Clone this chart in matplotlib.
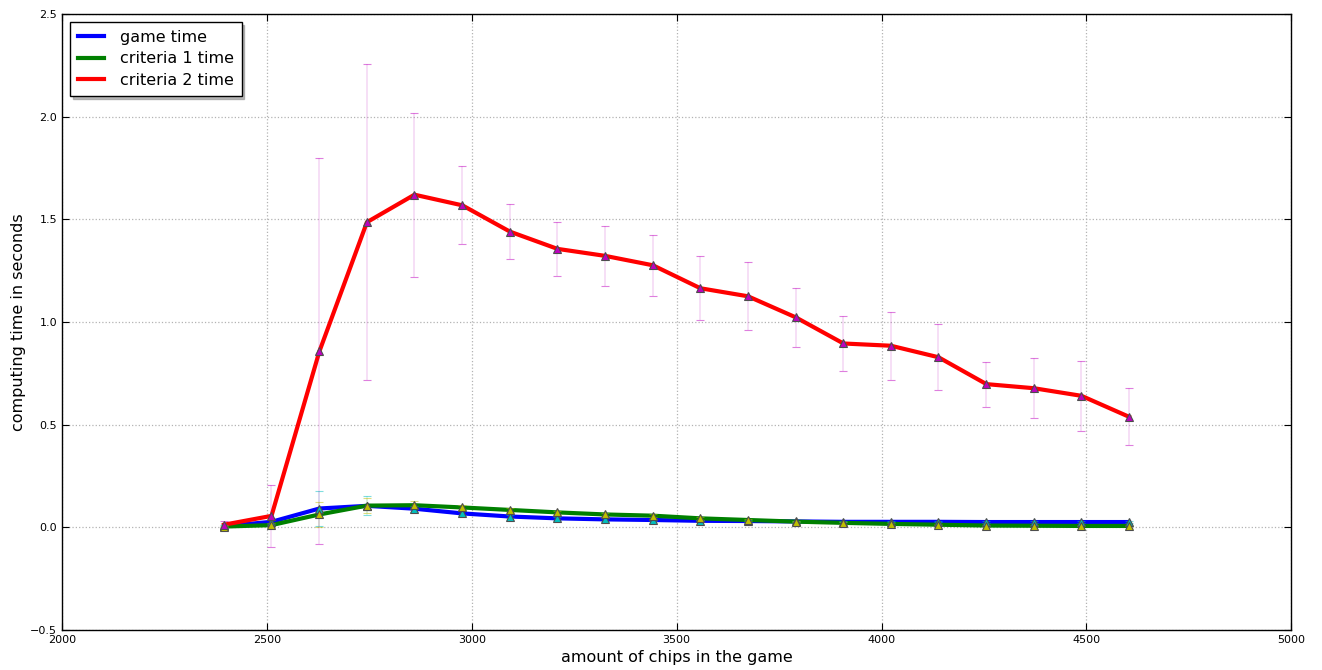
import numpy as np
import matplotlib
matplotlib.use("Agg")
import matplotlib.pyplot as plt

# amount of chips per game
chips = [2395, 2511, 2628, 2744, 2860, 2977, 3093, 3209, 3325, 3442,
         3558, 3674, 3791, 3907, 4023, 4139, 4256, 4372, 4488, 4604]

# mean computing times
game_time = [0.005, 0.026, 0.091, 0.104, 0.090, 0.067, 0.052, 0.043, 0.038, 0.035,
             0.031, 0.030, 0.028, 0.026, 0.026, 0.026, 0.025, 0.025, 0.025, 0.025]
crit1_time = [0.003, 0.010, 0.062, 0.105, 0.107, 0.096, 0.084, 0.072, 0.062, 0.056,
              0.043, 0.035, 0.027, 0.021, 0.016, 0.012, 0.008, 0.007, 0.006, 0.006]
crit2_time = [0.012, 0.055, 0.857, 1.486, 1.620, 1.568, 1.440, 1.356, 1.322, 1.276,
              1.164, 1.125, 1.022, 0.895, 0.884, 0.828, 0.697, 0.677, 0.640, 0.538]

# standard deviations
game_std = [0.004, 0.010, 0.085, 0.047, 0.015, 0.010, 0.008, 0.006, 0.006, 0.005,
            0.004, 0.004, 0.004, 0.003, 0.003, 0.003, 0.003, 0.003, 0.003, 0.003]
crit1_std = [0.003, 0.008, 0.060, 0.035, 0.020, 0.012, 0.010, 0.008, 0.008, 0.007,
             0.006, 0.005, 0.004, 0.004, 0.003, 0.003, 0.002, 0.002, 0.002, 0.002]
crit2_std = [0.020, 0.150, 0.940, 0.770, 0.400, 0.190, 0.135, 0.130, 0.145, 0.150,
             0.155, 0.165, 0.145, 0.135, 0.165, 0.160, 0.110, 0.145, 0.170, 0.140]

plt.rcParams['font.family'] = 'DejaVu Sans'

fig = plt.figure(figsize=(13.22, 6.70), dpi=100, facecolor='white')
ax = fig.add_axes([0.047, 0.06, 0.9297, 0.919])

series = [
    (game_time, game_std, 'b', 'c', 'game time'),
    (crit1_time, crit1_std, 'g', 'y', 'criteria 1 time'),
    (crit2_time, crit2_std, 'r', 'm', 'criteria 2 time'),
]

for vals, std, lc, mc, lab in series:
    ax.plot(chips, vals, color=lc, linewidth=3, label=lab, zorder=2)
    _, caps, bars = ax.errorbar(chips, vals, yerr=std, fmt='^', color=mc,
                                markersize=6, markeredgecolor='0.3',
                                markeredgewidth=0.8, ecolor=mc, elinewidth=1.2,
                                capsize=3, zorder=3)
    for b in bars:
        b.set_alpha(0.15)
    for c in caps:
        c.set_alpha(0.5)

ax.set_xlim(2000, 5000)
ax.set_ylim(-0.5, 2.5)
ax.set_xticks(np.arange(2000, 5001, 500))
ax.set_yticks(np.arange(-0.5, 2.51, 0.5))
ax.tick_params(direction='in', top=True, right=True, labelsize=8, length=5)
ax.grid(True, color='0.7', linestyle=':', linewidth=0.9)
ax.set_axisbelow(True)
for s in ax.spines.values():
    s.set_linewidth(1.0)

ax.set_xlabel('amount of chips in the game', fontsize=11.5, labelpad=4)
ax.set_ylabel('computing time in seconds', fontsize=11.5, labelpad=3)

leg = ax.legend(loc='upper left', fontsize=11.5,
                shadow={'ox': 2, 'oy': -2, 'color': '0.55', 'alpha': 0.6},
                fancybox=False, borderaxespad=0.5, handlelength=1.6,
                handletextpad=1.0, borderpad=0.5, labelspacing=0.4)
leg.get_frame().set_edgecolor('black')
leg.get_frame().set_linewidth(1.0)

fig.savefig('out.png', dpi=100, facecolor='white')
